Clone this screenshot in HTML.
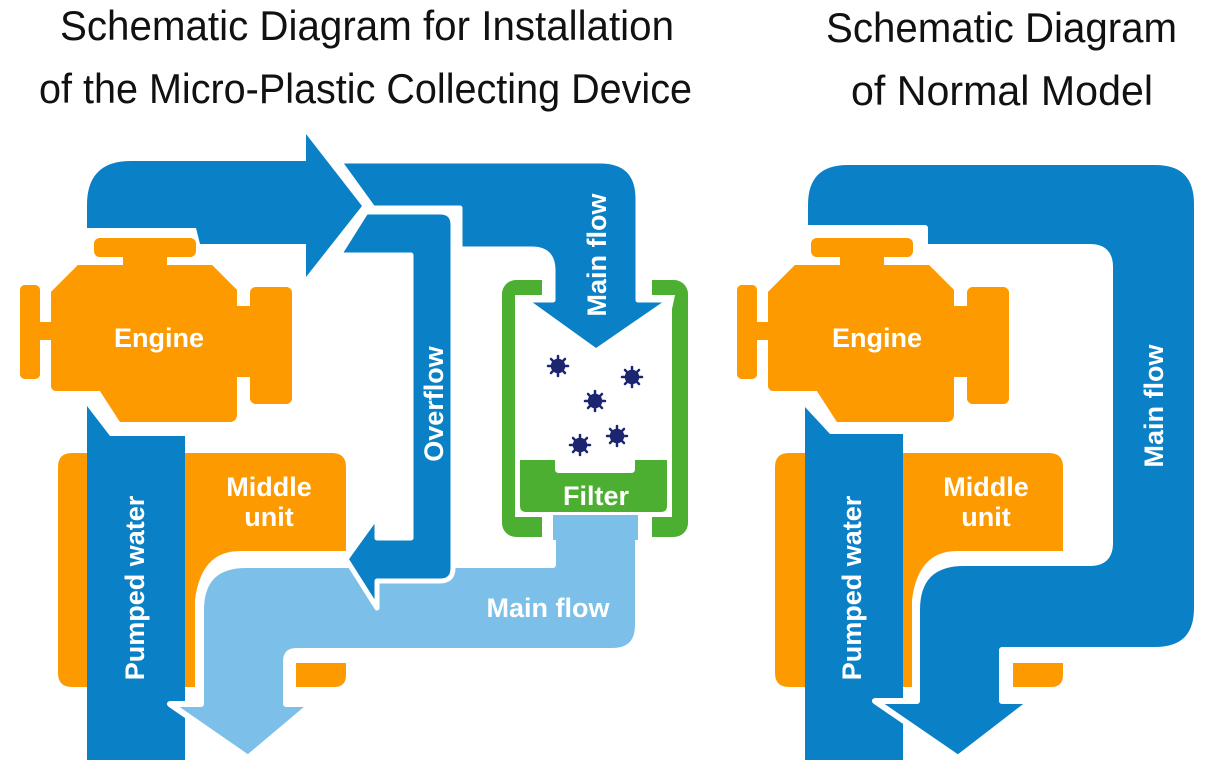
<!DOCTYPE html>
<html><head><meta charset="utf-8"><style>
html,body{margin:0;padding:0;background:#fff;}
svg{display:block;}
text{font-family:"Liberation Sans",sans-serif;}
.t{font-size:42px;fill:#111;}
.w{font-size:27px;font-weight:bold;fill:#fff;}
</style></head><body>
<svg width="1218" height="760" viewBox="0 0 1218 760" xmlns="http://www.w3.org/2000/svg">
<defs>
<g id="engine">
  <rect x="94" y="238" width="102" height="19" rx="6"/>
  <rect x="123" y="252" width="44" height="16"/>
  <path d="M78 265 L212 265 L237 290 L237 414 Q237 422 229 422 L120 422 L100 391 L57 391 Q51 391 51 385 L51 292 Z"/>
  <rect x="232" y="306" width="22" height="71"/>
  <rect x="250" y="287" width="42" height="117" rx="6"/>
  <rect x="20" y="285" width="20" height="94" rx="5"/>
  <rect x="36" y="322" width="18" height="18"/>
</g>
<g id="middle">
  <path d="M72 453 L332 453 Q346 453 346 467 L346 551 L240 551 Q201 551 195 600 L195 687 L72 687 Q58 687 58 673 L58 467 Q58 453 72 453 Z"/>
  <path d="M296 663 L346 663 L346 675 Q346 687 334 687 L296 687 Z"/>
</g>
</defs>

<!-- Titles -->
<text class="t" x="60" y="40" textLength="614" lengthAdjust="spacingAndGlyphs">Schematic Diagram for Installation</text>
<text class="t" x="39" y="103" textLength="653" lengthAdjust="spacingAndGlyphs">of the Micro-Plastic Collecting Device</text>
<text class="t" x="826" y="42" textLength="351" lengthAdjust="spacingAndGlyphs">Schematic Diagram</text>
<text class="t" x="851" y="105" textLength="302" lengthAdjust="spacingAndGlyphs">of Normal Model</text>

<!-- ===== LEFT DIAGRAM ===== -->
<g fill="#fd9a00"><use href="#middle"/></g>
<!-- pumped water column -->
<path d="M87 406 L110 436 L185 436 L185 760 L87 760 Z" fill="#0a80c6"/>
<!-- light blue main flow -->
<path d="M553 515 L638 515 L638 625 Q638 651 612 651 L296 651 Q286 651 286 661 L286 704 L312 704 L248 758 L170 704 L201 704 L201 610 Q201 565 246 565 L553 565 Z" fill="#7cc0ea" stroke="#fff" stroke-width="6" stroke-linejoin="round"/>
<!-- engine -->
<g fill="#fd9a00" stroke="#fff" stroke-width="8" paint-order="stroke" stroke-linejoin="round"><use href="#engine"/></g>
<g fill="#fd9a00"><use href="#engine"/></g>
<!-- filter frame -->
<rect x="502" y="280" width="186" height="257" rx="14" fill="#4caf32"/>
<path d="M515 295 L675 295 L672 309 L672 517 L515 517 L515 309 Z" fill="#fff"/>
<rect x="542" y="278" width="110" height="20" fill="#fff"/>
<rect x="542" y="514" width="110" height="25" fill="#fff"/>
<path d="M553 515 L638 515 L638 540 L553 540 Z" fill="#7cc0ea"/>
<path d="M520 460 L555 460 L555 469 Q555 473 559 473 L631 473 Q635 473 635 469 L635 460 L667 460 L667 506 Q667 512 661 512 L526 512 Q520 512 520 506 Z" fill="#4caf32"/>
<!-- particles -->
<g fill="#1c2670" stroke="#1c2670" stroke-width="2.5" stroke-linecap="round">
  <g transform="translate(558,366)"><circle r="6"/><path d="M0-10V10M-10 0H10M-7-7L7 7M-7 7L7-7"/></g>
  <g transform="translate(632,377)"><circle r="6"/><path d="M0-10V10M-10 0H10M-7-7L7 7M-7 7L7-7"/></g>
  <g transform="translate(595,401)"><circle r="6"/><path d="M0-10V10M-10 0H10M-7-7L7 7M-7 7L7-7"/></g>
  <g transform="translate(580,445)"><circle r="6"/><path d="M0-10V10M-10 0H10M-7-7L7 7M-7 7L7-7"/></g>
  <g transform="translate(617,436)"><circle r="6"/><path d="M0-10V10M-10 0H10M-7-7L7 7M-7 7L7-7"/></g>
</g>
<!-- top band with arrow -->
<path d="M87 228 L87 205 Q87 161 131 161 L306 161 L306 134 L362 206 L306 277 L306 244 L200 244 L196 228 Z" fill="#0a80c6"/>
<path d="M339 161 L600 161 Q638 161 638 199 L638 300 L670 300 L596 351 L525 300 L553 300 L553 270 Q553 249 532 249 L460 249 L460 208 L373 208 Z" fill="#0a80c6" stroke="#fff" stroke-width="5" stroke-linejoin="round"/>
<!-- overflow -->
<path d="M366 212 L440 212 Q453 212 453 225 L453 568 Q453 581 440 581 L377 581 L377 608 L346 559 L377 516 L377 538 L411 538 L411 255 L339 255 Z" fill="#0a80c6" stroke="#fff" stroke-width="5" stroke-linejoin="round"/>

<!-- left labels -->
<text class="w" x="159" y="347" text-anchor="middle">Engine</text>
<text class="w" x="269" y="496" text-anchor="middle">Middle</text>
<text class="w" x="269" y="526" text-anchor="middle">unit</text>
<text class="w" x="596" y="505" text-anchor="middle">Filter</text>
<text class="w" x="548" y="617" text-anchor="middle">Main flow</text>
<text class="w" transform="translate(606,255) rotate(-90)" text-anchor="middle">Main flow</text>
<text class="w" transform="translate(443,404) rotate(-90)" text-anchor="middle">Overflow</text>
<text class="w" transform="translate(144,588) rotate(-90)" text-anchor="middle">Pumped water</text>

<!-- ===== RIGHT DIAGRAM ===== -->
<g fill="#fd9a00" transform="translate(717,0)"><use href="#middle"/></g>
<path d="M805 407 L830 434 L903 434 L903 760 L805 760 Z" fill="#0a80c6"/>
<path d="M805 228 L805 205 Q805 162 848 162 L1155 162 Q1197 162 1197 204 L1197 608 Q1197 650 1155 650 L1002 650 L1002 701 L1032 701 L958 758 L875 701 L917 701 L917 610 Q917 563 964 563 L1090 563 Q1110 563 1110 543 L1110 267 Q1110 247 1090 247 L925 247 L925 228 Z" fill="#0a80c6" stroke="#fff" stroke-width="6" stroke-linejoin="round"/>
<g fill="#fd9a00" stroke="#fff" stroke-width="8" paint-order="stroke" stroke-linejoin="round" transform="translate(717,0)"><use href="#engine"/></g>
<g fill="#fd9a00" transform="translate(717,0)"><use href="#engine"/></g>

<text class="w" x="877" y="347" text-anchor="middle">Engine</text>
<text class="w" x="986" y="496" text-anchor="middle">Middle</text>
<text class="w" x="986" y="526" text-anchor="middle">unit</text>
<text class="w" transform="translate(1163,406) rotate(-90)" text-anchor="middle">Main flow</text>
<text class="w" transform="translate(861,588) rotate(-90)" text-anchor="middle">Pumped water</text>
</svg>
</body></html>
